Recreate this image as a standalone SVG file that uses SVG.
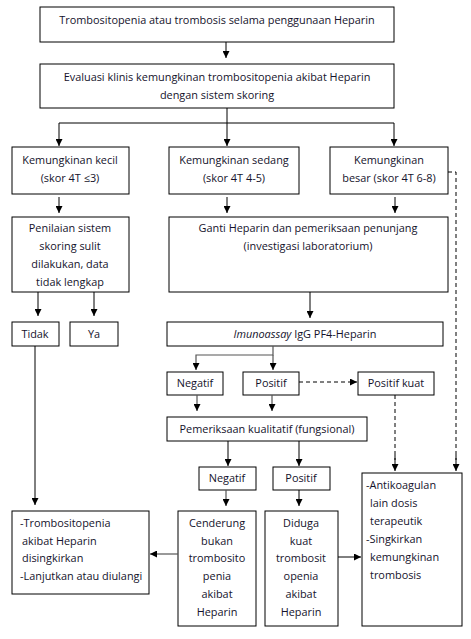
<svg xmlns="http://www.w3.org/2000/svg" width="471" height="639" viewBox="0 0 471 639">
<defs>
<marker id="ah" viewBox="0 0 10 10" refX="10" refY="5" markerWidth="7" markerHeight="7" markerUnits="userSpaceOnUse" orient="auto"><path d="M0,0 L10,5 L0,10 z" fill="#000"/></marker>
<style>
.b{fill:#fff;stroke:#000;stroke-width:1}
.t{font-family:"Open Sans","Liberation Sans",Arial,sans-serif;font-size:10.9px;fill:#14122b}
.c{text-anchor:middle}
.l{fill:none;stroke:#000;stroke-width:1}
.a{fill:none;stroke:#000;stroke-width:1;marker-end:url(#ah)}
.g{fill:none;stroke:#555;stroke-width:1.2;marker-end:url(#ah)}
.d{fill:none;stroke:#000;stroke-width:1;stroke-dasharray:4,3}
.da{fill:none;stroke:#000;stroke-width:1;stroke-dasharray:4,3;marker-end:url(#ah)}
</style>
</defs>
<rect width="471" height="639" fill="#fff"/>
<g id="n1"><rect class="b" x="40" y="7" width="354" height="35"/><text class="t c" x="217" y="24">Trombositopenia atau trombosis selama penggunaan Heparin</text></g>
<g id="n2"><rect class="b" x="40" y="64" width="354" height="44"/><text class="t c" x="217" y="81">Evaluasi klinis kemungkinan trombositopenia akibat Heparin</text><text class="t c" x="217" y="99">dengan sistem skoring</text></g>
<g id="n3"><rect class="b" x="12" y="147" width="117" height="47"/><text class="t c" x="70" y="164">Kemungkinan kecil</text><text class="t c" x="70" y="182">(skor 4T ≤3)</text></g>
<g id="n4"><rect class="b" x="169" y="147" width="130" height="47"/><text class="t c" x="234" y="164">Kemungkinan sedang</text><text class="t c" x="234" y="182">(skor 4T 4-5)</text></g>
<g id="n5"><rect class="b" x="330" y="147" width="118" height="47"/><text class="t c" x="389" y="164">Kemungkinan</text><text class="t c" x="389" y="182">besar (skor 4T 6-8)</text></g>
<g id="n6"><rect class="b" x="12" y="217" width="117" height="75"/><text class="t c" x="70" y="232">Penilaian sistem</text><text class="t c" x="70" y="250">skoring sulit</text><text class="t c" x="70" y="268">dilakukan, data</text><text class="t c" x="70" y="286">tidak lengkap</text></g>
<g id="n7"><rect class="b" x="169" y="217" width="279" height="75"/><text class="t c" x="308" y="232">Ganti Heparin dan pemeriksaan penunjang</text><text class="t c" x="308" y="250">(investigasi laboratorium)</text></g>
<g id="n8"><rect class="b" x="12" y="322" width="47" height="24"/><text class="t c" x="35" y="338">Tidak</text></g>
<g id="n9"><rect class="b" x="70" y="322" width="48" height="24"/><text class="t c" x="94" y="338">Ya</text></g>
<g id="n10"><rect class="b" x="167" y="322" width="276" height="24"/><text class="t c" x="305" y="338"><tspan font-style="italic">Imunoassay</tspan> IgG PF4-Heparin</text></g>
<g id="n11"><rect class="b" x="167" y="372" width="56" height="23"/><text class="t c" x="195" y="387">Negatif</text></g>
<g id="n12"><rect class="b" x="243" y="372" width="56" height="23"/><text class="t c" x="271" y="387">Positif</text></g>
<g id="n13"><rect class="b" x="358" y="372" width="76" height="23"/><text class="t c" x="396" y="387">Positif kuat</text></g>
<g id="n14"><rect class="b" x="167" y="417" width="200" height="24"/><text class="t c" x="267" y="433">Pemeriksaan kualitatif (fungsional)</text></g>
<g id="n15"><rect class="b" x="199" y="467" width="57" height="23"/><text class="t c" x="227" y="482">Negatif</text></g>
<g id="n16"><rect class="b" x="273" y="467" width="57" height="23"/><text class="t c" x="301" y="482">Positif</text></g>
<g id="n17"><rect class="b" x="12" y="511" width="137" height="83"/><text class="t" x="20" y="527">-Trombositopenia</text><text class="t" x="22" y="545">akibat Heparin</text><text class="t" x="22" y="562">disingkirkan</text><text class="t" x="20" y="580">-Lanjutkan atau diulangi</text></g>
<g id="n18"><rect class="b" x="178" y="511" width="78" height="115"/><text class="t c" x="217" y="527">Cenderung</text><text class="t c" x="217" y="545">bukan</text><text class="t c" x="217" y="562">trombosito</text><text class="t c" x="217" y="580">penia</text><text class="t c" x="217" y="598">akibat</text><text class="t c" x="217" y="616">Heparin</text></g>
<g id="n19"><rect class="b" x="265" y="511" width="73" height="115"/><text class="t c" x="301" y="527">Diduga</text><text class="t c" x="301" y="545">kuat</text><text class="t c" x="301" y="562">trombosit</text><text class="t c" x="301" y="580">openia</text><text class="t c" x="301" y="598">akibat</text><text class="t c" x="301" y="616">Heparin</text></g>
<g id="n20"><rect class="b" x="362" y="473" width="100" height="153"/><text class="t" x="366" y="489">-Antikoagulan</text><text class="t" x="370" y="507">lain dosis</text><text class="t" x="370" y="525">terapeutik</text><text class="t" x="366" y="543">-Singkirkan</text><text class="t" x="370" y="561">kemungkinan</text><text class="t" x="370" y="579">trombosis</text></g>
<g id="connectors">
<path class="a" d="M226,42 V58"/>
<path class="l" d="M227,108 V123 M59,123 H394"/>
<path class="a" d="M59,123 V146"/>
<path class="a" d="M227,123 V146"/>
<path class="a" d="M394,123 V146"/>
<path class="a" d="M59,197 V213"/>
<path class="a" d="M227,197 V213"/>
<path class="a" d="M395,197 V213"/>
<path class="a" d="M38,292 V316"/>
<path class="a" d="M94,292 V316"/>
<path class="a" d="M310,292 V318"/>
<path class="d" d="M448,172 H456 V460"/>
<path class="a" d="M456,455 V471"/>
<path class="a" d="M35,346 V505"/>
<path class="g" d="M273,346 V355 H196 V370"/>
<path class="g" d="M273,355 V370"/>
<path class="da" d="M299,382 H357"/>
<path class="d" d="M395,395 V460"/>
<path class="a" d="M395,455 V471"/>
<path class="g" d="M197,395 V411"/>
<path class="g" d="M272,395 V411"/>
<path class="a" d="M228,441 V466"/>
<path class="a" d="M299,441 V466"/>
<path class="g" d="M226,490 V506"/>
<path class="a" d="M299,490 V506"/>
<path class="g" d="M178,554 H150"/>
<path class="a" d="M338,557 H361"/>
</g>
</svg>
